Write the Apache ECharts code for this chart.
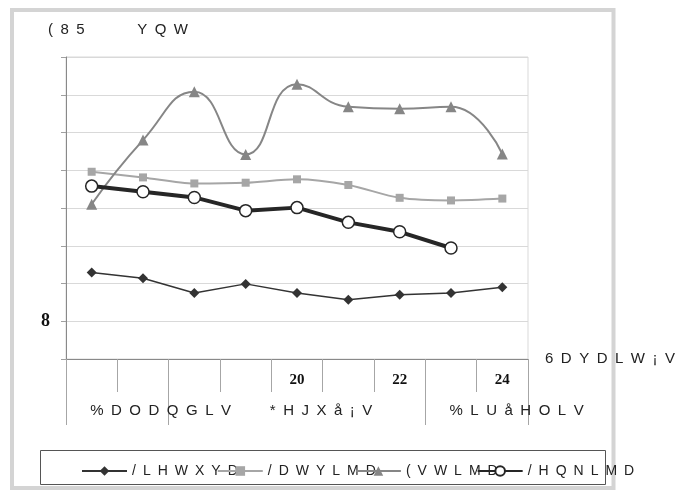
<!DOCTYPE html>
<html>
<head>
<meta charset="utf-8">
<script src="https://cdn.jsdelivr.net/npm/echarts@6/dist/echarts.min.js"></script>
<style>
  html, body { margin: 0; padding: 0; background: #fff; }
  #chart { width: 680px; height: 495px; }
</style>
</head>
<body>
<div id="chart"></div>
<script>
// spaced out letters, like the reference text
const sp = s => s.split('').join('\u2002')

// data
const weeks = ['16', '17', '18', '19', '20', '21', '22', '23', '24']
const shownWeeks = ['20', '22', '24']
const months = ['%DODQGLV', '*HJXå¡V', '%LUåHOLV']
const weeksPerMonth = [2, 5, 2]
const yTickLabels = ['', '8', '', '', '', '', '', '', '']

const lietuva = [2.29, 2.14, 1.75, 1.99, 1.75, 1.57, 1.70, 1.75, 1.90]
const latvija = [4.96, 4.81, 4.65, 4.67, 4.76, 4.61, 4.27, 4.20, 4.25]
const estija = [4.10, 5.80, 7.08, 5.42, 7.28, 6.68, 6.63, 6.68, 5.43]
const lenkija = [4.58, 4.43, 4.28, 3.93, 4.01, 3.62, 3.37, 2.94, null]

const seriesNames = ['/LHWXYD', '/DWYLMD', '(VWLMD', '/HQNLMD']

// month bounds on the category scale
const monthBounds = [0]
weeksPerMonth.forEach(n => monthBounds.push(monthBounds[monthBounds.length - 1] + n))
const monthLabelAt = months.map((m, i) => (monthBounds[i] + monthBounds[i + 1]) / 2 - 0.53)
const weekBounds = weeks.map((w, i) => i).concat(weeks.length)

const sans = '"Liberation Sans", Arial, sans-serif'
const serif = '"Liberation Serif", "Times New Roman", serif'

const chart = echarts.init(document.getElementById('chart'), null, { renderer: 'canvas' })

const option = {
  backgroundColor: '#fff',
  animation: false,
  title: {
    text: sp('(85') + '\u2003\u2003\u2003\u2002' + sp('YQW'),
    left: 43,
    top: 17,
    textStyle: { fontFamily: sans, fontSize: 15, fontWeight: 'normal', color: '#222' }
  },
  legend: {
    left: 76,
    top: 459,
    itemWidth: 45,
    itemHeight: 12,
    itemGap: -21,
    data: seriesNames.map(sp),
    textStyle: { fontFamily: sans, fontSize: 14, color: '#222' }
  },
  grid: {
    left: 66,
    top: 57,
    right: 152,
    bottom: 136,
    show: true,
    borderColor: '#d9d9d9',
    borderWidth: 1,
    backgroundColor: 'transparent'
  },
  xAxis: [
    {
      type: 'category',
      data: weeks,
      boundaryGap: true,
      name: sp('6DYDLW¡V'),
      nameLocation: 'end',
      nameGap: 17,
      nameTextStyle: {
        fontFamily: sans, fontSize: 15, color: '#222',
        align: 'left', verticalAlign: 'middle', padding: [48, 0, 0, 0]
      },
      axisLine: { lineStyle: { color: '#898989', width: 1 } },
      axisTick: { show: false },
      axisLabel: {
        interval: 0,
        margin: 14,
        fontFamily: serif,
        fontWeight: 'bold',
        fontSize: 15,
        color: '#111',
        formatter: v => shownWeeks.includes(v) ? v : ''
      }
    },
    {
      // week ticks
      type: 'value',
      min: 0,
      max: weeks.length,
      position: 'bottom',
      axisLine: { show: false },
      splitLine: { show: false },
      axisTick: {
        show: true,
        customValues: weekBounds,
        length: 33,
        lineStyle: { color: '#a6a6a6' }
      },
      axisLabel: { show: false }
    },
    {
      // month groups
      type: 'value',
      min: 0,
      max: weeks.length,
      position: 'bottom',
      axisLine: { show: false },
      splitLine: { show: false },
      axisTick: {
        show: true,
        customValues: monthBounds,
        length: 66,
        lineStyle: { color: '#a6a6a6' }
      },
      axisLabel: {
        customValues: monthLabelAt,
        margin: 44,
        align: 'left',
        fontFamily: sans,
        fontSize: 15,
        color: '#222',
        formatter: v => {
          const i = monthLabelAt.findIndex(p => Math.abs(p - v) < 1e-6)
          return i >= 0 ? sp(months[i]) : ''
        }
      }
    }
  ],
  yAxis: {
    type: 'value',
    min: 0,
    max: 8,
    interval: 1,
    axisLine: { show: true, lineStyle: { color: '#898989' } },
    axisTick: { show: true, length: 5, lineStyle: { color: '#a0a0a0' } },
    splitLine: { lineStyle: { color: '#d9d9d9' } },
    axisLabel: {
      margin: 16,
      fontFamily: serif,
      fontWeight: 'bold',
      fontSize: 18,
      color: '#111',
      formatter: (v) => yTickLabels[Math.round(v)] || ''
    }
  },
  series: [
    {
      name: sp(seriesNames[0]),
      type: 'line',
      data: lietuva,
      symbol: 'diamond',
      symbolSize: 10,
      color: '#333',
      lineStyle: { width: 1.5, color: '#333' },
      z: 3
    },
    {
      name: sp(seriesNames[1]),
      type: 'line',
      data: latvija,
      smooth: 0.3,
      symbol: 'rect',
      symbolSize: 8,
      color: '#a6a6a6',
      lineStyle: { width: 2, color: '#a6a6a6' },
      z: 3
    },
    {
      name: sp(seriesNames[2]),
      type: 'line',
      data: estija,
      smooth: 0.5,
      symbol: 'triangle',
      symbolSize: 11,
      color: '#868686',
      lineStyle: { width: 2, color: '#868686' },
      z: 4
    },
    {
      name: sp(seriesNames[3]),
      type: 'line',
      data: lenkija,
      symbol: 'circle',
      symbolSize: 12,
      showSymbol: true,
      itemStyle: { color: '#fff', borderColor: '#262626', borderWidth: 1.5 },
      lineStyle: { width: 4, color: '#262626' },
      z: 5
    }
  ],
  graphic: [
    {
      type: 'rect',
      shape: { x: 12, y: 10, width: 601.5, height: 478 },
      style: { fill: 'none', stroke: '#d4d4d4', lineWidth: 4 },
      silent: true
    },
    {
      type: 'rect',
      shape: { x: 40.5, y: 450.5, width: 565, height: 34 },
      style: { fill: 'none', stroke: '#555', lineWidth: 1 },
      silent: true
    }
  ]
}

chart.setOption(option)
</script>
</body>
</html>
